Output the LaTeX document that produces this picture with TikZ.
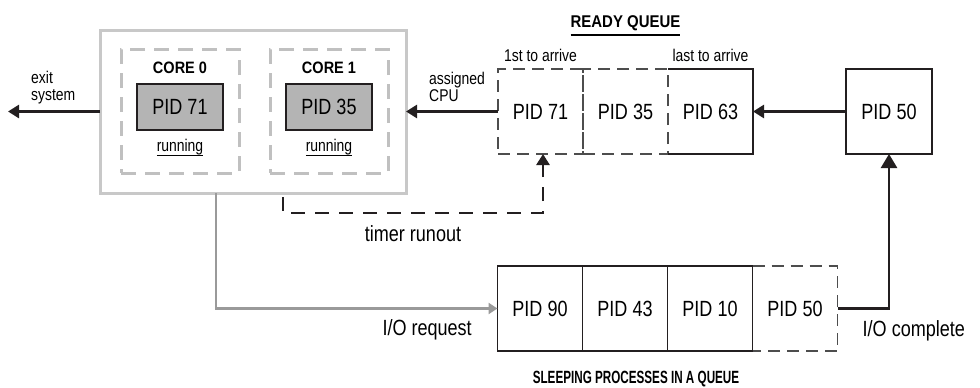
\documentclass[tikz,border=0pt]{standalone}
\usepackage{fontspec}
\setmainfont{Liberation Sans}[FakeStretch=0.82]
\newfontfamily\headfam{Liberation Sans Bold}[FakeStretch=0.88]
\newfontfamily\sleepfam{Liberation Sans Bold}[FakeStretch=0.66]
\usetikzlibrary{positioning, arrows.meta, calc}

\definecolor{inkblack}{HTML}{231F20}
\definecolor{dashink}{HTML}{4D4D4D}
\definecolor{framegray}{HTML}{C8C8C8}
\definecolor{coregray}{HTML}{C0C0C0}
\definecolor{pidgray}{HTML}{B4B4B4}
\definecolor{linegray}{HTML}{9A9A9A}

\newcommand{\pidfont}{\fontsize{22}{26}\selectfont}
\newcommand{\lblfont}{\fontsize{17}{17}\selectfont}
\newcommand{\headfont}{\headfam\fontsize{17}{20}\selectfont}
\newcommand{\corefont}{\headfam\fontsize{16.5}{20}\selectfont}
\newcommand{\sleepfont}{\sleepfam\fontsize{17.7}{20}\selectfont}
\newsavebox{\ulinebox}
\newcommand{\ulined}[2][5pt]{\sbox{\ulinebox}{#2}\rlap{\rule[-#1]{\wd\ulinebox}{1.5pt}}\usebox{\ulinebox}}

\begin{document}
\begin{tikzpicture}[x=1pt, y=-1pt,
    pidbox/.style={draw=inkblack, line width=1.4pt, minimum width=85pt, minimum height=85pt, inner sep=0pt, outer sep=0pt, font=\pidfont},
    pidghost/.style={pidbox, draw=dashink, dash pattern=on 12pt off 7pt},
    boxside/.style={draw=inkblack, line width=1.4pt},
    ghostside/.style={draw=dashink, line width=1.4pt, dash pattern=on 12pt off 7pt},
    runbox/.style={draw=inkblack, line width=1.4pt, fill=pidgray, minimum width=86pt, minimum height=46pt, inner sep=0pt, font=\pidfont},
    corebox/.style={draw=coregray, line width=3pt, dash pattern=on 15pt off 9pt, minimum width=118pt, minimum height=124pt, inner sep=0pt},
    cpubox/.style={draw=framegray, line width=3pt, minimum width=306pt, minimum height=163pt, inner sep=0pt, outer sep=0pt},
    headlbl/.style={font=\headfont, inner sep=1pt},
    smalllbl/.style={font=\lblfont, inner sep=1pt, align=left},
    biglbl/.style={font=\pidfont, inner sep=1pt},
    arrowline/.style={draw=inkblack, line width=2.6pt, -{Triangle[length=11pt, width=13pt]}},
    timerline/.style={arrowline, dash pattern=on 14pt off 10pt},
    ioline/.style={draw=linegray, line width=2.4pt, -{Triangle[length=9pt, width=11pt]}}
]
\useasboundingbox (0,0) rectangle (980,388);

% --- CPU mit zwei Kernen ---
\node[cpubox] (cpu) at (253,111.5) {};
\node[corebox] (core0) at (180,111) {};
\node[corebox] (core1) at (329,111) {};

\node[runbox] (run0) at ([yshift=4pt]core0.center) {PID 71};
\node[runbox] (run1) at ([yshift=4pt]core1.center) {PID 35};
\node[headlbl, font=\corefont, above=8pt of run0] (core0lbl) {CORE 0};
\node[headlbl, font=\corefont, above=8pt of run1] (core1lbl) {CORE 1};
\node[smalllbl, below=7pt of run0] (state0) {\ulined{running}};
\node[smalllbl, below=7pt of run1] (state1) {\ulined{running}};

% --- Ready Queue ---
\node[pidghost] (rq1) at (540.5,111.5) {PID 71};
\node[pidghost, right=0pt of rq1] (rq2) {PID 35};
\node[pidbox, draw=none, right=0pt of rq2] (rq3) {PID 63};
\draw[boxside] (rq3.north west) -- (rq3.north east) -- (rq3.south east) -- (rq3.south west);
\node[pidbox, minimum width=86pt] (newp) at (889,111.5) {PID 50};

\node[smalllbl, above=6pt of rq1] (firstlbl) {1st to arrive};
\node[smalllbl, above=6pt of rq3] (lastlbl) {last to arrive};
\node[headlbl, above=32pt of rq2] (readylbl) {\ulined[8.5pt]{READY QUEUE}};

% --- Sleeping Queue ---
\node[pidbox] (sq1) at (540,308.5) {PID 90};
\node[pidbox, right=0pt of sq1] (sq2) {PID 43};
\node[pidbox, right=0pt of sq2] (sq3) {PID 10};
\node[pidbox, draw=none, right=0pt of sq3] (sq4) {PID 50};
\draw[ghostside] (sq4.north west) -- (sq4.north east) -- (sq4.south east) -- (sq4.south west);
\node[headlbl, font=\sleepfont, below=19pt of sq2, xshift=11pt] (sleeplbl) {SLEEPING PROCESSES IN A QUEUE};

% --- Kanten ---
\coordinate (exitend) at (8,111.5);
\draw[arrowline] (cpu.west) -- (exitend);
\node[smalllbl, anchor=west] (exitlbl) at (30,88) {exit\\system};

\draw[arrowline] (rq1.west) -- (cpu.east);
\node[smalllbl, anchor=west] (cpulbl) at (428,87) {assigned\\CPU};

\draw[arrowline] (newp.west) -- (rq3.east);

% timer runout (gestrichelt)
\coordinate (tstart) at ([xshift=30pt, yshift=-4pt]cpu.south);
\coordinate (tturn) at ([yshift=-16pt]tstart);
\draw[timerline] (tstart) -- (tturn) -| ([xshift=2.5pt]rq1.south) node[biglbl, pos=0.25, below=10pt] {timer runout};

% I/O request (grau)
\draw[ioline] ([xshift=-37pt]cpu.south) |- (sq1.west) node[biglbl, pos=0.875, below=9pt] {I/O request};

% I/O complete
\draw[arrowline, -{Triangle[length=14pt, width=16pt]}] (sq4.east) -| (newp.south);
\node[biglbl, anchor=west] (donelbl) at ([xshift=24pt, yshift=-22pt]sq4.east) {I/O complete};

\end{tikzpicture}
\end{document}
